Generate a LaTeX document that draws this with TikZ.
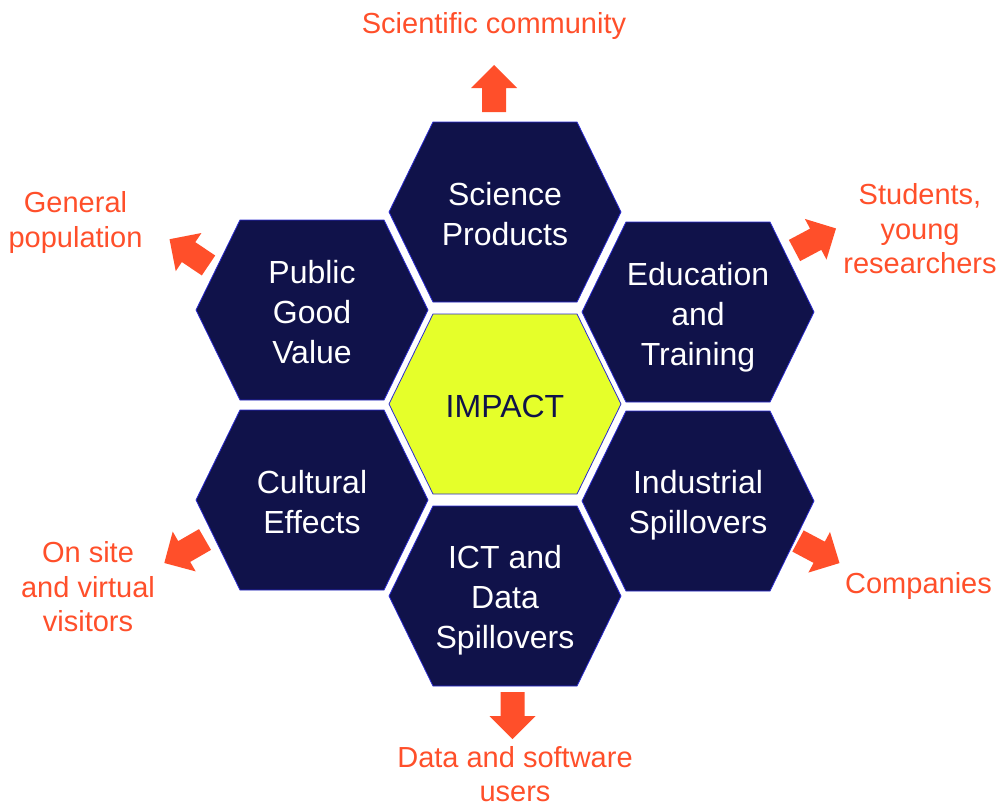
\documentclass[tikz,border=0pt]{standalone}
\usepackage{fontspec}
\setmainfont{Liberation Sans}

\definecolor{hexnavy}{HTML}{10124A}
\definecolor{hexedge}{HTML}{2B2BD0}
\definecolor{impactyellow}{HTML}{E5FF2A}
\definecolor{reachred}{HTML}{FF4F2A}

\tikzset{
  hexcell/.style={fill=hexnavy, draw=hexedge, line width=0.8pt},
  hexlabel/.style={text=white, align=center, font=\fontsize{32}{40}\selectfont},
  reachlabel/.style={text=reachred, align=center, font=\fontsize{29}{34.5}\selectfont},
  reacharrow/.style={fill=reachred}
}

% hexagon round a named centre
\newcommand{\hexcell}[2]{\draw[hexcell,#2] (#1) ++(-116,0) -- ++(44,90) -- ++(144,0) -- ++(44,-90) -- ++(-44,-90) -- ++(-144,0) -- cycle;}
% block arrow: tail centre x, y, direction
\newcommand{\blockarrow}[3]{\fill[reacharrow, shift={(#1,#2)}, rotate=#3] (0,-12) -- (24,-12) -- (24,-23) -- (47,0) -- (24,23) -- (24,12) -- (0,12) -- cycle;}

\begin{document}
\begin{tikzpicture}[x=1pt, y=-1pt]
\useasboundingbox (0,0) rectangle (998,808);

\coordinate (impact) at (505,404);
\coordinate (sci) at (505,212);
\coordinate (edu) at (698,312);
\coordinate (ind) at (698,501);
\coordinate (ict) at (505,596);
\coordinate (cult) at (312,500);
\coordinate (pub) at (312,310);

\hexcell{impact}{fill=impactyellow}
\hexcell{sci}{}
\hexcell{edu}{}
\hexcell{ind}{}
\hexcell{ict}{}
\hexcell{cult}{}
\hexcell{pub}{}

\node[hexlabel, text=hexnavy] (impacttext) at (505,406) {IMPACT};
\node[hexlabel] (scitext) at (505,214) {Science\\Products};
\node[hexlabel] (edutext) at (698,317) {Education\\and\\Training};
\node[hexlabel] (indtext) at (698,505) {Industrial\\Spillovers};
\node[hexlabel] (icttext) at (505,600) {ICT and\\Data\\Spillovers};
\node[hexlabel] (culttext) at (312,502) {Cultural\\Effects};
\node[hexlabel] (pubtext) at (312,312) {Public\\Good\\Value};

\blockarrow{494}{112}{90}
\blockarrow{794.5}{250.5}{28}
\blockarrow{798}{541}{-28}
\blockarrow{512.5}{692}{-90}
\blockarrow{205}{539.5}{210}
\blockarrow{208.5}{265.5}{146}

\node[reachlabel, anchor=base] (scicomm) at (494,34) {Scientific community};
\node[reachlabel] (students) at (920,229) {Students,\\young\\researchers};
\node[reachlabel, anchor=base] (companies) at (918.5,593) {Companies};
\node[reachlabel, inner sep=0pt] (datausers) at (515,774) {Data and software\\users};
\node[reachlabel] (visitors) at (88,587) {On site\\and virtual\\visitors};
\node[reachlabel] (population) at (75.5,222.5) {General\\population};

\end{tikzpicture}
\end{document}
